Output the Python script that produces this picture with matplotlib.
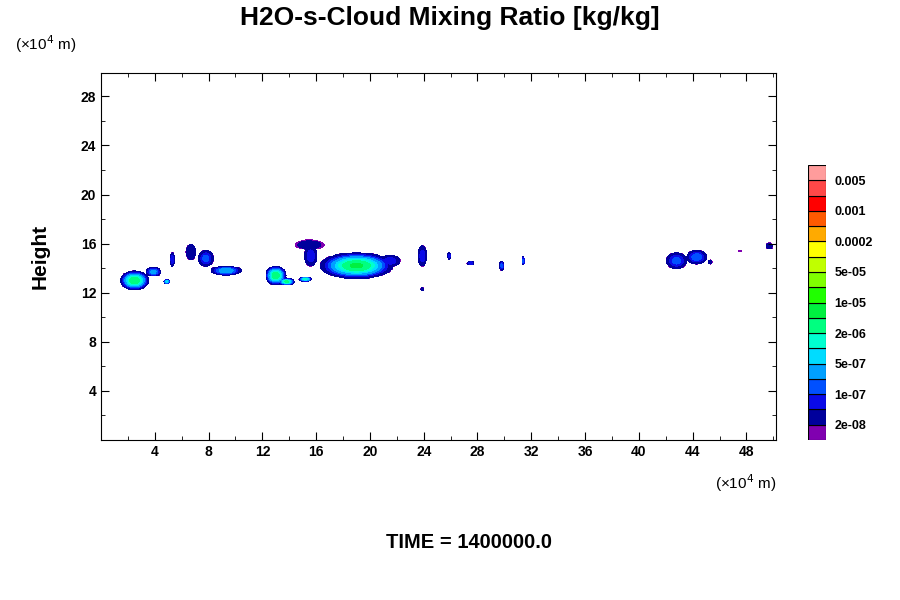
import numpy as np
import matplotlib
matplotlib.use("Agg")
import matplotlib.pyplot as plt
from matplotlib.colors import ListedColormap, BoundaryNorm

plt.rcParams["font.family"] = ["Liberation Sans", "DejaVu Sans"]

# contour boundaries (kg/kg) and the colours between them, bottom to top
levels = [2e-8, 5e-8, 1e-7, 2e-7, 5e-7, 1e-6, 2e-6, 5e-6, 1e-5, 2e-5,
          5e-5, 1e-4, 2e-4, 5e-4, 1e-3, 2e-3, 5e-3]
label_levels = ["2e-08", "1e-07", "5e-07", "2e-06", "1e-05", "5e-05",
                "0.0002", "0.001", "0.005"]
colors = ["#8000b0", "#00009c", "#0a0ae8", "#0050ff", "#00a0ff", "#00dcff",
          "#00ffd0", "#00ff80", "#00f040", "#20ff00", "#80ff00", "#c0ff00",
          "#ffff00", "#ffaa00", "#ff5a00", "#ff0000", "#ff4848", "#ff9c9c"]

# cloud blobs: centre x, centre z (1e4 m), half widths, peak log10(q)
blob_x = [2.5, 3.9, 4.9, 5.3, 6.7, 7.8, 9.3, 13.0, 13.8, 15.2, 15.5, 15.6, 19.0,
          21.5, 23.9, 23.9, 25.9, 27.5, 29.8, 31.4, 42.8, 44.3, 45.3, 47.5, 49.7]
blob_z = [13.0, 13.7, 12.9, 14.7, 15.3, 14.8, 13.8, 13.4, 12.9, 13.1, 15.9, 15.0, 14.2,
          14.6, 15.0, 12.3, 15.0, 14.4, 14.2, 14.6, 14.6, 14.9, 14.5, 15.4, 15.8]
blob_wx = [1.1, 0.6, 0.25, 0.2, 0.4, 0.6, 1.2, 0.8, 0.6, 0.5, 1.2, 0.5, 2.8,
           0.8, 0.35, 0.15, 0.15, 0.3, 0.2, 0.15, 0.8, 0.8, 0.2, 0.15, 0.3]
blob_wz = [0.8, 0.4, 0.2, 0.6, 0.7, 0.7, 0.4, 0.8, 0.3, 0.2, 0.45, 0.9, 1.1,
           0.5, 0.9, 0.15, 0.3, 0.2, 0.4, 0.4, 0.7, 0.6, 0.2, 0.15, 0.3]
blob_peak = [-5.3, -6.5, -6.0, -7.0, -7.3, -6.8, -6.3, -5.3, -5.5, -5.8, -7.6, -7.0, -5.2,
             -7.0, -7.0, -7.6, -7.0, -7.0, -6.8, -6.8, -6.8, -6.7, -7.6, -7.7, -7.6]

x = np.linspace(0, 50.2, 700)
z = np.linspace(0, 29.9, 500)
X, Z = np.meshgrid(x, z)
field = np.full(X.shape, -20.0)
for cx, cz, wx, wz, pk in zip(blob_x, blob_z, blob_wx, blob_wz, blob_peak):
    r2 = ((X - cx) / wx) ** 2 + ((Z - cz) / wz) ** 2
    val = -7.75 + (pk + 7.75) * np.clip(1 - r2, 0, None) ** 1.5
    val[r2 > 1] = -20
    field = np.maximum(field, val)
field = np.where(field < -7.74, np.nan, field)

log_levels = [np.log10(v) for v in levels]
bounds = [-7.75] + log_levels + [-1.5]
cmap = ListedColormap(colors)
norm = BoundaryNorm(bounds, cmap.N)

fig = plt.figure(figsize=(9, 6), dpi=100)
ax = fig.add_axes([101 / 900, 1 - 440 / 600, 675 / 900, 367 / 600])
ax.contourf(X, Z, field, levels=bounds, cmap=cmap, norm=norm)
ax.set_xlim(0, 50.2)
ax.set_ylim(0, 29.9)
ax.set_xticks(range(4, 49, 4))
ax.set_yticks(range(4, 29, 4))
ax.set_xticks(range(2, 51, 2), minor=True)
ax.set_yticks(range(2, 30, 2), minor=True)
ax.tick_params(which="both", direction="in", top=True, right=True, labelsize=10)
ax.tick_params(which="major", length=6)
ax.tick_params(which="minor", length=3)
for lab in ax.get_xticklabels() + ax.get_yticklabels():
    lab.set_fontweight("bold")
ax.set_ylabel("Height", fontsize=15, fontweight="bold", labelpad=22)

fig.text(0.5, 1 - 18 / 600, "H2O-s-Cloud Mixing Ratio [kg/kg]", ha="center", va="center",
         fontsize=19, fontweight="bold")
fig.text(15 / 900, 1 - 44 / 600, "(\u00d710$^4$ m)", ha="left", va="center", fontsize=11)
fig.text(715 / 900, 1 - 483 / 600, "(\u00d710$^4$ m)", ha="left", va="center", fontsize=11)
fig.text(469 / 900, 1 - 543 / 600, "TIME = 1400000.0", ha="center", va="center",
         fontsize=14.5, fontweight="bold")

# colour bar: equal boxes with labels on every second boundary
cax = fig.add_axes([808 / 900, 1 - 440 / 600, 18 / 900, 275 / 600])
n = len(colors)
for i, c in enumerate(colors):
    cax.add_patch(plt.Rectangle((0, i), 1, 1, facecolor=c, edgecolor="black", lw=0.8))
cax.set_xlim(0, 1)
cax.set_ylim(0, n)
cax.set_xticks([])
cax.yaxis.tick_right()
cax.set_yticks(range(1, n, 2))
cax.set_yticklabels(label_levels, fontsize=9, fontweight="bold")
cax.tick_params(axis="y", length=0, pad=6)
for s in cax.spines.values():
    s.set_visible(False)

fig.savefig("out.png", dpi=100)
